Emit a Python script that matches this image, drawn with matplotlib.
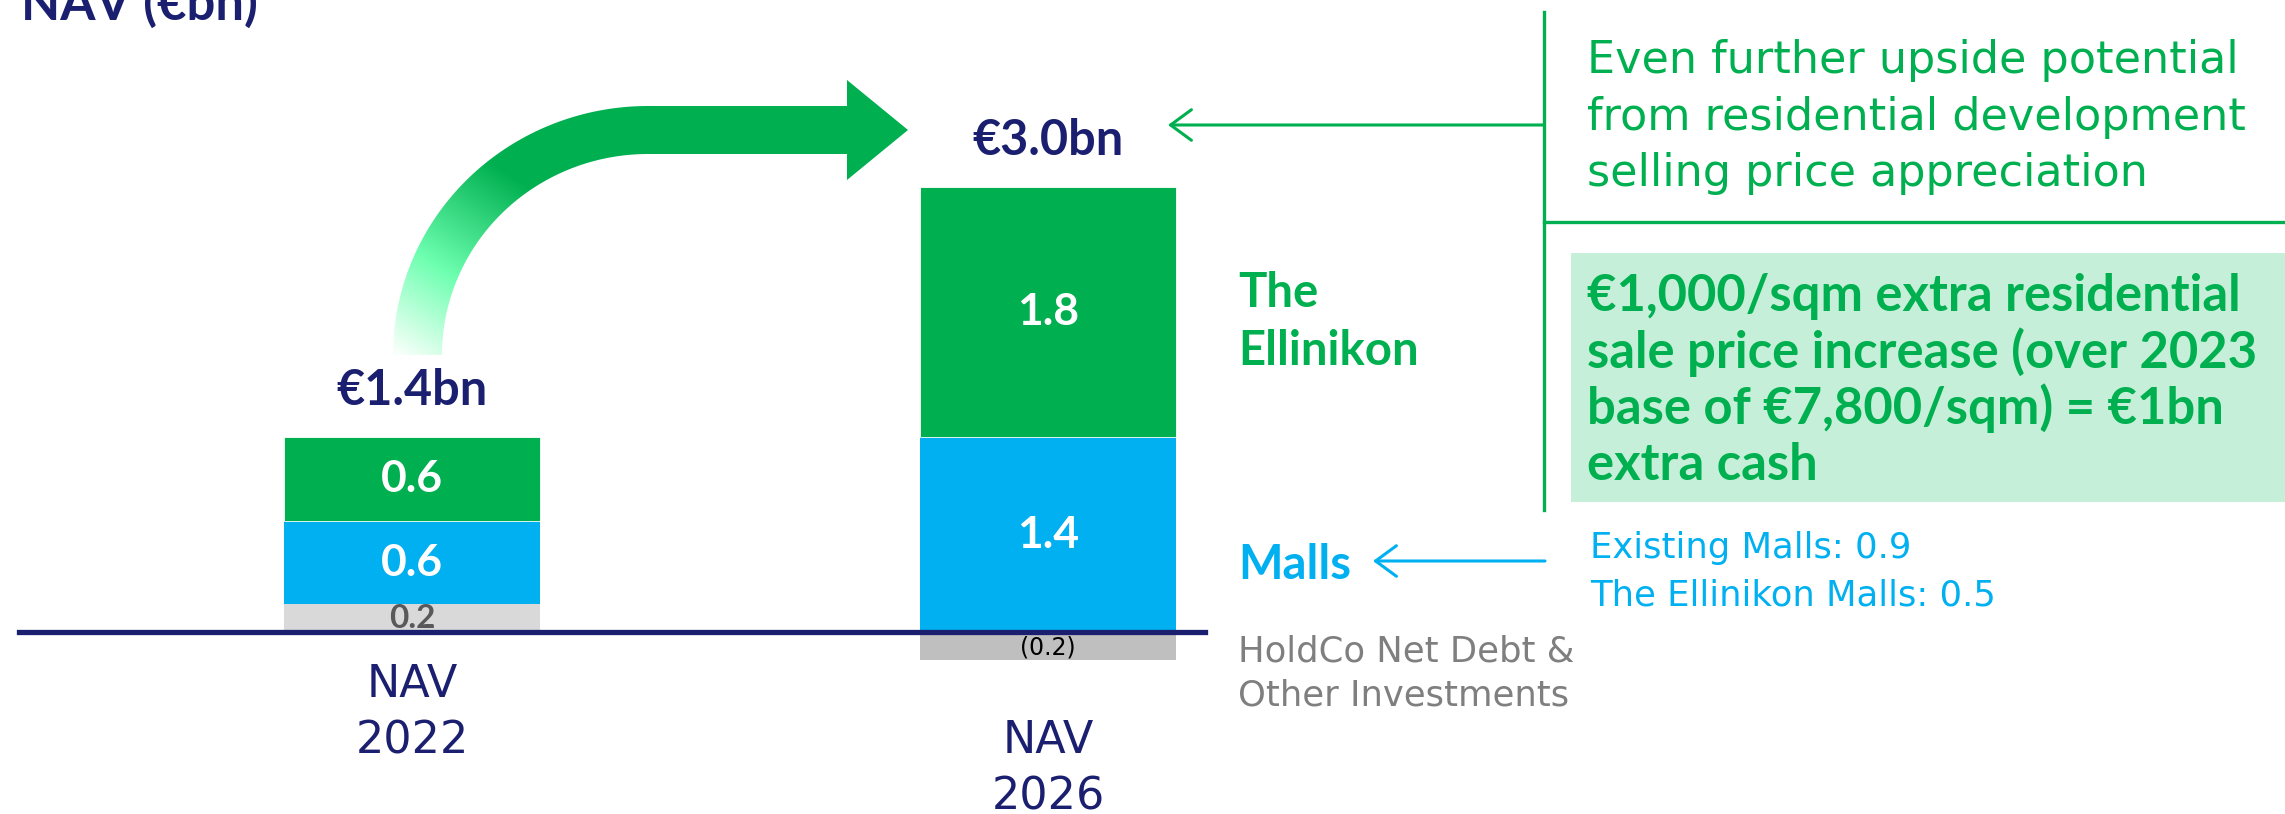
"""
NAV bridge chart: NAV 2022 vs NAV 2026 (EUR bn), with call-outs.
"""

import numpy as np
import matplotlib.pyplot as plt
import matplotlib.transforms as mtransforms
from matplotlib.colors import LinearSegmentedColormap
from matplotlib.path import Path
from matplotlib.patches import PathPatch, Rectangle

# ---- data (EUR bn) ----
categories = ['NAV\n2022', 'NAV\n2026']
holdco = [0.2, -0.2]          # HoldCo net debt & other investments
malls = [0.6, 1.4]
ellinikon = [0.6, 1.8]
nav_totals = [1.4, 3.0]
holdco_text = ['0.2', '(0.2)']
malls_breakdown = ['Existing Malls: 0.9', 'The Ellinikon Malls: 0.5']
upside_note = ['Even further upside potential',
               'from residential development',
               'selling price appreciation']
cash_note = ['€1,000/sqm extra residential',
             'sale price increase (over 2023',
             'base of €7,800/sqm) = €1bn',
             'extra cash']

GREEN = '#00B050'
BLUE = '#00B0F0'
NAVY = '#1B1F6F'
GREY_TXT = '#7F7F7F'
BOX = '#C6EFD9'
BOLD = ['Lato', 'DejaVu Sans']
REG = ['DejaVu Sans']

W, H = 2285, 814
fig = plt.figure(figsize=(W / 100, H / 100), dpi=100)

# bar axes: value scale in EUR bn (baseline ~632 px from top)
ax = fig.add_axes([0, 0, 1, 1])
ax.set_xlim(-412 / 636, (W - 412) / 636)
ax.set_ylim(-(H - 632) / 139, 632 / 139)
ax.axis('off')

# pixel overlay for call-outs (y grows downwards)
ov = fig.add_axes([0, 0, 1, 1], facecolor='none')
ov.axis('off')

x = np.arange(len(categories))
width = 0.404
malls_bottom = np.maximum(holdco, 0)
ell_bottom = malls_bottom + np.array(malls)
tops = ell_bottom + np.array(ellinikon)

ax.bar(x, holdco, width, color=['#D9D9D9', '#BFBFBF'], linewidth=0)
ax.bar(x, malls, width, bottom=malls_bottom, color=BLUE, linewidth=0)
ax.bar(x, ellinikon, width, bottom=ell_bottom, color=GREEN,
       edgecolor='white', linewidth=0.6)
ax.axhline(0, xmin=19 / W, xmax=1205 / W, color=NAVY, lw=3.8, zorder=5)

# segment labels
for i in x:
    ax.text(i, ell_bottom[i] + ellinikon[i] / 2, f'{ellinikon[i]:.1f}',
            ha='center', va='center', color='white', fontsize=32,
            weight='bold', family=BOLD)
    ax.text(i, malls_bottom[i] + malls[i] / 2, f'{malls[i]:.1f}',
            ha='center', va='center', color='white', fontsize=32,
            weight='bold', family=BOLD)
ax.text(0, holdco[0] / 2, holdco_text[0], ha='center', va='center',
        color='#595959', fontsize=24, weight='bold', family=BOLD, zorder=6)
ax.annotate(holdco_text[1], xy=(1, holdco[1] / 2), xytext=(0, -2),
            textcoords='offset pixels', ha='center', va='center',
            color='black', fontsize=17, family=REG)

# totals above bars
for i in x:
    ax.annotate(f'€{nav_totals[i]:.1f}bn', xy=(i, tops[i]), xytext=(0, 32),
                textcoords='offset pixels', ha='center', va='baseline',
                color=NAVY, fontsize=35, weight='bold', family=BOLD)

# category labels (x in data, y in pixels)
trans = mtransforms.blended_transform_factory(ax.transData, ov.transData)
for i, (lab, yb) in enumerate(zip(categories, [697, 753])):
    for k, line in enumerate(lab.split('\n')):
        ax.text(i, yb + 57 * k, line, transform=trans, ha='center',
                va='baseline', color=NAVY, fontsize=32, family=REG)

# title
ov.text(21, 20, 'NAV (€bn)', ha='left', va='baseline', color=NAVY,
        fontsize=36.5, weight='bold', family=BOLD)

# curved gradient arrow from 2022 to 2026
cx, cy = 648, 355
rxo, ryo = 255, 249
rxi, ryi = rxo - 49, ryo - 48
th = np.linspace(np.pi, np.pi / 2, 80)
outer = np.column_stack([cx + rxo * np.cos(th), cy - ryo * np.sin(th)])
inner = np.column_stack([cx + rxi * np.cos(th[::-1]), cy - ryi * np.sin(th[::-1])])
yt, yb = cy - ryo, cy - ryi
head = np.array([(847, yt), (847, 80), (908, (yt + yb) / 2), (847, 180), (847, yb)])
verts = np.vstack([outer, head, inner, outer[:1]])
arrow_patch = PathPatch(Path(verts, closed=True), facecolor='none', edgecolor='none')
ov.add_patch(arrow_patch)

gx = np.linspace(385, 915, 400)
gy = np.linspace(75, 360, 240)
GX, GY = np.meshgrid(gx, gy)
p0 = np.array([400.0, 355.0])
p1 = np.array([515.0, 178.0])
d = p1 - p0
t = np.clip(((GX - p0[0]) * d[0] + (GY - p0[1]) * d[1]) / (d @ d), 0, 1)
cmap = LinearSegmentedColormap.from_list(
    'arrow', [(0, '#F8FFFA'), (0.45, '#6DFFB0'), (1, GREEN)])
im = ov.imshow(t, cmap=cmap, vmin=0, vmax=1, extent=(385, 915, 360, 75),
               origin='upper', aspect='auto', interpolation='bilinear')
im.set_clip_path(arrow_patch)

# call-out frame lines
ov.plot([1544, 1544], [12, 510], color=GREEN, lw=2.4)
ov.plot([1544, W], [222, 222], color=GREEN, lw=2.4)
ov.annotate('', xy=(1168, 125), xytext=(1544, 125),
            arrowprops=dict(arrowstyle='->,head_length=0.75,head_width=0.55',
                            color=GREEN, lw=2.2, shrinkA=0, shrinkB=0,
                            mutation_scale=20))
ov.annotate('', xy=(1373, 561), xytext=(1545, 561),
            arrowprops=dict(arrowstyle='->,head_length=0.75,head_width=0.55',
                            color=BLUE, lw=2.2, shrinkA=0, shrinkB=0,
                            mutation_scale=20))
ov.add_patch(Rectangle((1571, 253), W - 1571, 249, color=BOX, lw=0))

for line, yb in zip(upside_note, [73, 130, 186]):
    ov.text(1587, yb, line, va='baseline', color=GREEN, fontsize=32, family=REG)
for line, yb in zip(cash_note, [311, 368, 424, 480]):
    ov.text(1587, yb, line, va='baseline', color=GREEN, fontsize=36.5,
            weight='bold', family=BOLD)
for line, yb in zip(malls_breakdown, [558, 606]):
    ov.text(1590, yb, line, va='baseline', color=BLUE, fontsize=25.5, family=REG)

# series labels
for line, yb in zip(['The', 'Ellinikon'], [307, 365]):
    ov.text(1238, yb, line, va='baseline', color=GREEN, fontsize=34,
            weight='bold', family=BOLD)
ov.text(1238, 579, 'Malls', va='baseline', color=BLUE, fontsize=34,
        weight='bold', family=BOLD)
for line, yb in zip(['HoldCo Net Debt &', 'Other Investments'], [662, 706]):
    ov.text(1238, yb, line, va='baseline', color=GREY_TXT, fontsize=25.5, family=REG)

ov.set_xlim(0, W)
ov.set_ylim(H, 0)

fig.savefig('out.png', dpi=100)
plt.close(fig)
